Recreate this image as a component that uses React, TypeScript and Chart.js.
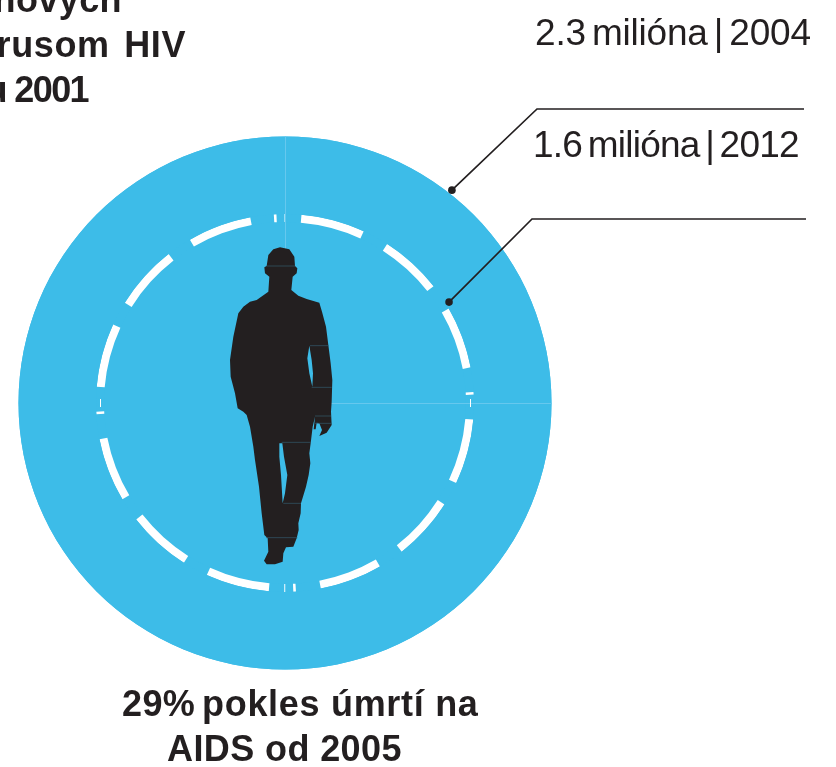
import React, { useEffect, useRef } from "react";
import { Chart, registerables } from "chart.js";

Chart.register(...registerables);

const BLUE = "#3dbce8";
const INK = "#231f20";
const WHITE = "#ffffff";
const SEAM = "#66c8ee";

// Outer band, dashed ring and inner disc of the doughnut
const outerBand = [360];
const innerDisc = [360];
// Alternating arc lengths in degrees, clockwise from the top: mark, gap, mark, gap...
const ringArcs = [
  0.15, 4.85, 19.6, 8.1, 19.1, 8.2, 19.1, 7.5, 0.8, 7.6, 20, 7.4, 19.4, 8, 19.2, 7.6, 0.8, 2.45, 0.3, 4.7,
  19.5, 7.9, 19.6, 7.4, 19.6, 7.6, 0.8, 7.6, 19.6, 7.5, 19.9, 7.8, 19.6, 7.2, 0.8, 2.45, 0.15,
];
const ringColors = ringArcs.map((_, i) => (i % 2 === 0 ? WHITE : "rgba(0,0,0,0)"));

const topLeftLines = ["nových", "vírusom HIV", "v roku 2001"];
const bottomLines = ["29%", "pokles úmrtí na", "AIDS od 2005"];
const callouts = ["2.3 milióna | 2004", "1.6 milióna | 2012"];

// Silhouette outline, traced in a 3x drawing space
const bodyOutline: number[][] = [
  [240,52],[268,58],[283,80],[285,108],[292,115],[290,130],[278,140],[274,180],[295,197],[320,207],[358,218],[366,245],[378,290],[385,345],[392,400],[397,450],[395,515],[393,545],[395,585],[380,608],[358,618],[366,600],[358,580],[350,578],[347,598],[341,598],[345,560],[338,590],[332,640],[328,670],[331,700],[326,735],[318,770],[303,820],[302,850],[295,880],[296,900],[290,925],[280,950],[258,952],[250,970],[248,995],[225,1003],[200,1003],[192,992],[205,965],[203,925],[193,915],[185,850],[177,770],[165,690],[160,650],[150,590],[140,555],[130,545],[113,535],[105,490],[92,440],[90,390],[100,320],[115,250],[130,230],[150,215],[170,210],[205,185],[208,140],[195,130],[193,112],[200,108],[205,75],[220,58],
];
const armGap: number[][] = [[328,347],[322,385],[328,430],[337,470],[339,430],[335,390]];
const legGap: number[][] = [[238,640],[238,680],[243,735],[248,820],[255,790],[262,735],[252,680],[247,640]];
const bodySeams: number[][] = [[200,108,285,108],[330,347,385,347],[335,472,395,472],[345,558,393,558],[345,580,393,580],[245,637,332,637],[250,820,303,820],[198,923,292,923]];

const overlay = {
  id: "overlay",
  beforeDatasetsDraw(chart: any) {
    const arc = chart.getDatasetMeta(0).data[0];
    const ctx = chart.ctx;
    ctx.save();
    ctx.fillStyle = BLUE;
    ctx.beginPath();
    ctx.arc(arc.x, arc.y, arc.outerRadius, 0, Math.PI * 2);
    ctx.fill();
    ctx.restore();
  },
  afterDatasetsDraw(chart: any) {
    const arc = chart.getDatasetMeta(0).data[0];
    const cx = arc.x;
    const cy = arc.y;
    const R = arc.outerRadius;
    const ctx = chart.ctx;
    ctx.save();

    // hairlines of the disc
    ctx.strokeStyle = SEAM;
    ctx.lineWidth = 1;
    ctx.beginPath();
    ctx.moveTo(cx + 0.5, cy - R);
    ctx.lineTo(cx + 0.5, cy - 150);
    ctx.moveTo(cx + 40, cy + 0.5);
    ctx.lineTo(cx + R, cy + 0.5);
    ctx.stroke();

    // short hairline ticks at left and right of the ring
    ctx.strokeStyle = WHITE;
    ctx.beginPath();
    ctx.moveTo(cx + 185.5, cy - 4);
    ctx.lineTo(cx + 185.5, cy + 4);
    ctx.moveTo(cx - 184.5, cy - 4);
    ctx.lineTo(cx - 184.5, cy + 4);
    ctx.stroke();

    // silhouette
    const px = (v: number) => cx - 85 + v / 3;
    const py = (v: number) => cy - 173 + v / 3;
    const trace = (pts: number[][]) => {
      pts.forEach((p, i) => (i === 0 ? ctx.moveTo(px(p[0]), py(p[1])) : ctx.lineTo(px(p[0]), py(p[1]))));
      ctx.closePath();
    };
    ctx.fillStyle = INK;
    ctx.beginPath();
    trace(bodyOutline);
    trace(armGap);
    trace(legGap);
    ctx.fill("evenodd");
    ctx.strokeStyle = "#34596b";
    ctx.lineWidth = 0.7;
    ctx.beginPath();
    bodySeams.forEach((s) => {
      ctx.moveTo(px(s[0]), py(s[1]));
      ctx.lineTo(px(s[2]), py(s[3]));
    });
    ctx.stroke();

    // leader lines
    const leaders = [
      { angle: 38.1, r: R + 4, elbow: [252, -294], end: 519 },
      { angle: 58.4, r: 192.6, elbow: [247, -184], end: 521 },
    ];
    ctx.strokeStyle = INK;
    ctx.fillStyle = INK;
    ctx.lineWidth = 1.7;
    leaders.forEach((l) => {
      const a = (l.angle * Math.PI) / 180;
      const dx = cx + l.r * Math.sin(a);
      const dy = cy - l.r * Math.cos(a);
      ctx.beginPath();
      ctx.moveTo(dx, dy);
      ctx.lineTo(cx + l.elbow[0], cy + l.elbow[1]);
      ctx.lineTo(cx + l.end, cy + l.elbow[1]);
      ctx.stroke();
      ctx.beginPath();
      ctx.arc(dx, dy, 3.8, 0, Math.PI * 2);
      ctx.fill();
    });

    // text
    ctx.textBaseline = "alphabetic";
    ctx.fillStyle = INK;
    ctx.font = 'bold 36px "Liberation Sans"';
    ctx.textAlign = "right";
    ctx.letterSpacing = "0.4px";
    ctx.wordSpacing = "0px";
    ctx.fillText(topLeftLines[0], 122, 12);
    ctx.letterSpacing = "0.6px";
    ctx.wordSpacing = "4px";
    ctx.fillText(topLeftLines[1], 186, 57);
    ctx.letterSpacing = "-1.6px";
    ctx.wordSpacing = "0px";
    ctx.fillText(topLeftLines[2], 88, 102);

    ctx.textAlign = "left";
    ctx.letterSpacing = "0.4px";
    ctx.fillText(bottomLines[0], 122, 716);
    ctx.letterSpacing = "0.7px";
    ctx.fillText(bottomLines[1], 202, 716);
    ctx.letterSpacing = "0.4px";
    ctx.fillText(bottomLines[2], 167, 761);

    ctx.font = '37px "Liberation Sans"';
    ctx.letterSpacing = "-0.2px";
    ctx.wordSpacing = "-4px";
    ctx.fillText(callouts[0], 535, 45);
    ctx.letterSpacing = "-0.75px";
    ctx.fillText(callouts[1], 533, 157);
    ctx.restore();
  },
};

export default function App() {
  const ref = useRef<HTMLCanvasElement | null>(null);
  useEffect(() => {
    const chart = new Chart(ref.current as HTMLCanvasElement, {
      type: "doughnut",
      data: {
        labels: ringArcs.map((_, i) => String(i)),
        datasets: [
          { data: outerBand, backgroundColor: [BLUE], borderWidth: 0, weight: 77.5 },
          { data: ringArcs, backgroundColor: ringColors, borderWidth: 0, weight: 8 },
          { data: innerDisc, backgroundColor: [BLUE], borderWidth: 0, weight: 181 },
        ],
      },
      options: {
        responsive: false,
        animation: false,
        cutout: 0,
        layout: { padding: { left: 18.5, right: 284.5, top: 136.5, bottom: 97.5 } },
        plugins: { legend: { display: false }, tooltip: { enabled: false } },
      },
      plugins: [overlay],
    } as any);
    return () => chart.destroy();
  }, []);
  return (
    <div style={{ position: "absolute", left: 0, top: 0, width: 836, height: 767, background: "#fff" }}>
      <canvas ref={ref} width={836} height={767} style={{ display: "block" }} />
    </div>
  );
}
